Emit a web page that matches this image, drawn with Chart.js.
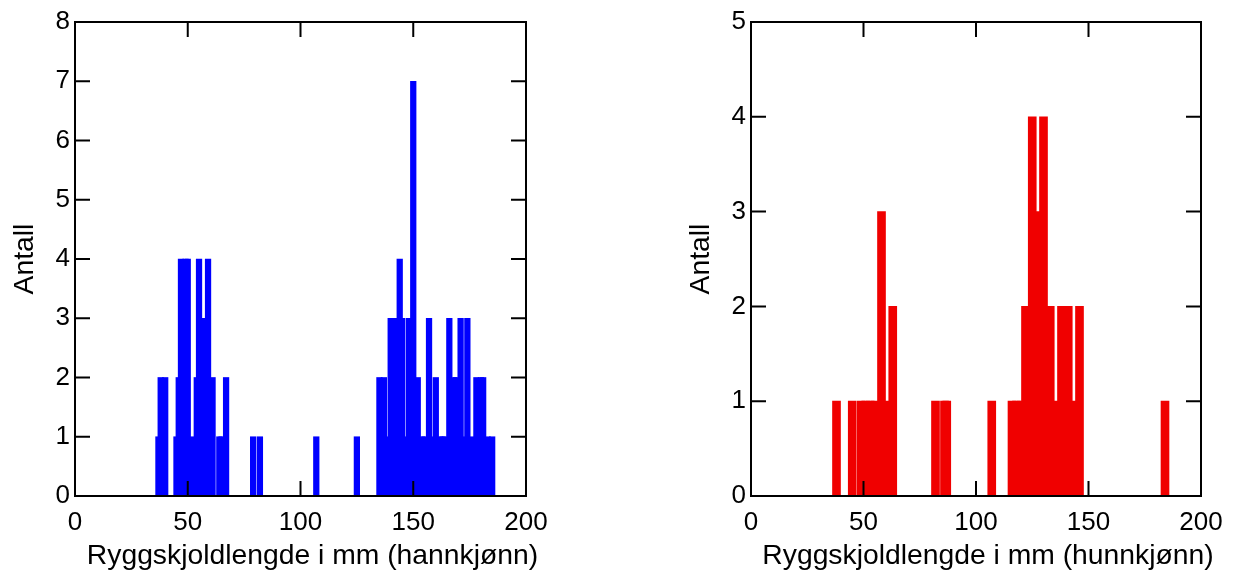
<!DOCTYPE html>
<html>
<head>
<meta charset="utf-8">
<script src="https://cdn.jsdelivr.net/npm/chart.js@4.4.0/dist/chart.umd.min.js"></script>
<style>
	body { margin: 0; background: #fff; width: 1242px; height: 575px; overflow: hidden; position: relative; }
	.box { position: absolute; top: 0; height: 575px; }
</style>
</head>
<body>
<div class="box" style="left:0;width:560px"><canvas id="hann"></canvas></div>
<div class="box" style="left:676px;width:566px"><canvas id="hunn"></canvas></div>
<script>
// ryggskjoldlengde (mm) og antall, hannkjønn
const hannLengde = [
	37, 38, 40, 45, 46, 47, 49, 50, 52, 54, 55, 57, 59, 61, 64, 65, 67, 79, 82,
	107, 125, 135, 137, 138, 140, 142, 144, 145, 146, 148, 150, 152, 154, 155,
	157, 158, 160, 162, 163, 164, 166, 168, 169, 171, 173, 174, 176, 178, 180,
	181, 183, 185,
]
const hannAntall = [
	1, 2, 2, 1, 2, 4, 4, 4, 1, 2, 4, 3, 4, 2, 1, 1, 2, 1, 1,
	1, 1, 2, 2, 1, 3, 3, 4, 3, 1, 3, 7, 2, 1, 1,
	3, 1, 2, 1, 1, 1, 3, 2, 2, 3, 1, 3, 1, 2, 2,
	2, 1, 1,
]

// hunnkjønn
const hunnLengde = [
	38, 45, 49, 51, 53, 55, 58, 60, 63, 82, 86, 87, 107, 116, 118, 120, 122,
	125, 127, 130, 133, 135, 138, 141, 143, 146, 184,
]
const hunnAntall = [
	1, 1, 1, 1, 1, 1, 3, 1, 2, 1, 1, 1, 1, 1, 1, 1, 2,
	4, 3, 4, 2, 1, 2, 2, 1, 2, 1,
]

const xTicks = [0, 50, 100, 150, 200]
const hannYTicks = [0, 1, 2, 3, 4, 5, 6, 7, 8]
const hunnYTicks = [0, 1, 2, 3, 4, 5]

const fontFamily = "'Liberation Sans', Arial, sans-serif"

// ramme rundt plottet med ticks innover, og x-tittel litt til høyre som i originalen
const frame = {
	id: 'frame',
	afterDatasetsDraw(chart) {
		const { ctx, chartArea: a, scales } = chart
		ctx.save()
		ctx.strokeStyle = '#000'
		ctx.lineWidth = 2
		ctx.strokeRect(a.left, a.top, a.right - a.left, a.bottom - a.top)
		ctx.beginPath()
		scales.x.ticks.forEach(t => {
			const px = scales.x.getPixelForValue(t.value)
			ctx.moveTo(px, a.bottom)
			ctx.lineTo(px, a.bottom - 15)
			ctx.moveTo(px, a.top)
			ctx.lineTo(px, a.top + 15)
		})
		scales.y.ticks.forEach(t => {
			const py = scales.y.getPixelForValue(t.value)
			ctx.moveTo(a.left, py)
			ctx.lineTo(a.left + 15, py)
			ctx.moveTo(a.right, py)
			ctx.lineTo(a.right - 15, py)
		})
		ctx.stroke()

		ctx.fillStyle = '#000'
		ctx.font = '28.3px ' + fontFamily
		ctx.textAlign = 'center'
		ctx.textBaseline = 'alphabetic'
		ctx.fillText(chart.options.xTitle, (a.left + a.right) / 2 + 12, 564)
		ctx.restore()
	},
}

function makeChart(id, lengde, antall, yTicks, color, barWidth, xTitle, rightPad) {
	const points = lengde.map((l, i) => ({ x: l, y: antall[i] }))
	return new Chart(document.getElementById(id), {
		type: 'bar',
		data: {
			datasets: [
				{
					data: points,
					backgroundColor: color,
					borderWidth: 0,
					barThickness: barWidth,
				},
			],
		},
		options: {
			xTitle: xTitle,
			responsive: true,
			maintainAspectRatio: false,
			animation: false,
			layout: { padding: { top: 22, right: rightPad, left: 0, bottom: 0 } },
			plugins: { legend: { display: false }, tooltip: { enabled: false } },
			scales: {
				x: {
					type: 'linear',
					offset: false,
					min: xTicks[0],
					max: xTicks[xTicks.length - 1],
					afterBuildTicks: s => {
						s.ticks = xTicks.map(v => ({ value: v }))
					},
					ticks: {
						autoSkip: false,
						maxRotation: 0,
						padding: 11,
						color: '#000',
						font: { family: fontFamily, size: 26 },
					},
					grid: { display: false, drawTicks: false },
					border: { display: false },
					afterFit: s => {
						s.height = 79
					},
				},
				y: {
					min: yTicks[0],
					max: yTicks[yTicks.length - 1],
					afterBuildTicks: s => {
						s.ticks = yTicks.map(v => ({ value: v }))
					},
					ticks: {
						padding: 5,
						color: '#000',
						font: { family: fontFamily, size: 26 },
					},
					grid: { display: false, drawTicks: false },
					border: { display: false },
					title: {
						display: true,
						text: 'Antall',
						color: '#000',
						font: { family: fontFamily, size: 28.3 },
						padding: { top: 8, bottom: 0 },
					},
					afterFit: s => {
						s.width = 75
					},
				},
			},
		},
		plugins: [frame],
	})
}

makeChart('hann', hannLengde, hannAntall, hannYTicks, '#0000ff', 5.6,
	'Ryggskjoldlengde i mm (hannkjønn)', 34)
makeChart('hunn', hunnLengde, hunnAntall, hunnYTicks, '#f00000', 8,
	'Ryggskjoldlengde i mm (hunnkjønn)', 41)
</script>
</body>
</html>
